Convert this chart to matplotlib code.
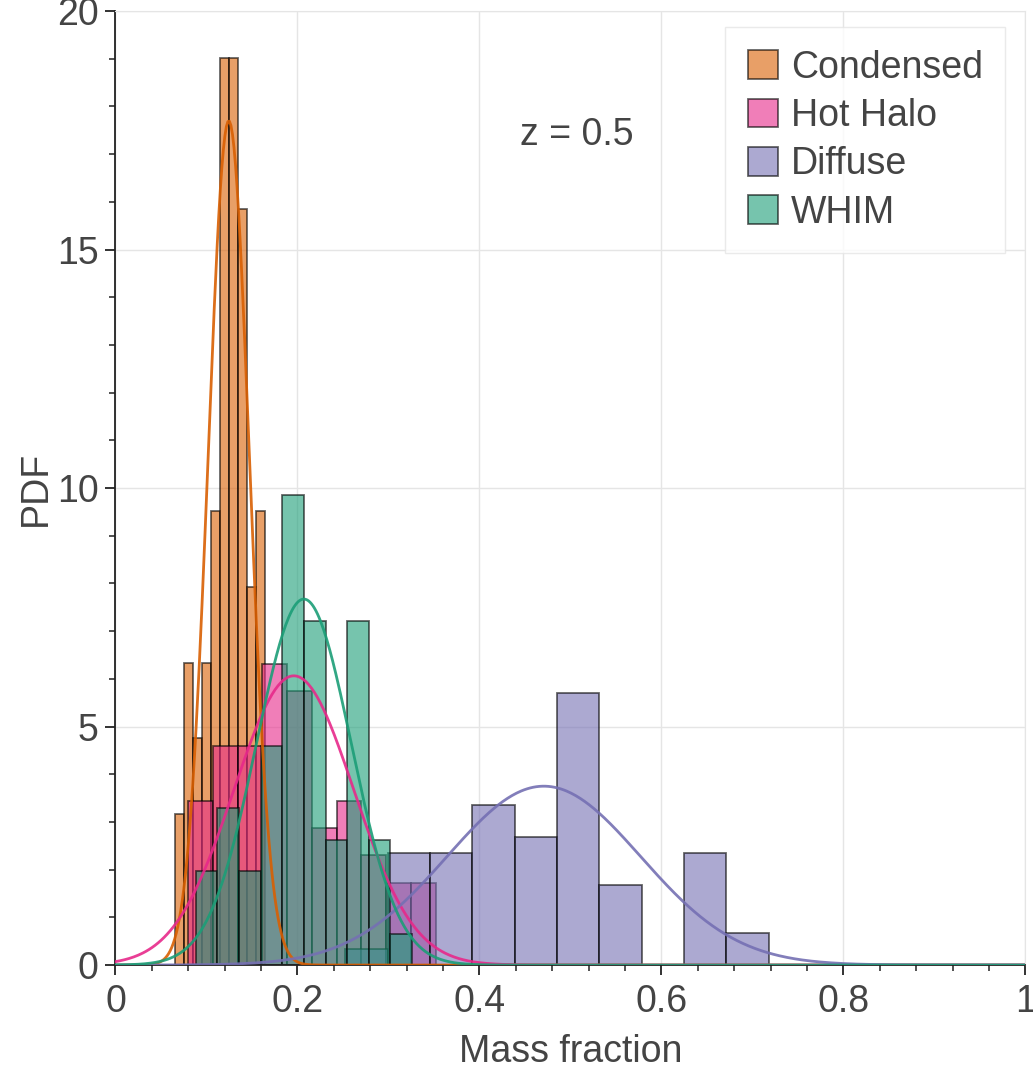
"""Mass-fraction PDFs of the four gas phases at z = 0.5 (histograms + normal fits)."""
import matplotlib

matplotlib.use("Agg")
import matplotlib.pyplot as plt
import numpy as np
from matplotlib.patches import Patch

plt.rcParams["font.family"] = ["Liberation Sans", "DejaVu Sans"]

N_SAMPLES = 64
phases = ["Condensed", "Hot Halo", "Diffuse", "WHIM"]
colors = ["#d95f02", "#e7298a", "#7570b3", "#1b9e77"]

# 10 equal-width bins per phase: (first edge, last edge) and counts per bin
bin_range = [(0.0659, 0.1645), (0.0799, 0.3519), (0.2527, 0.7179), (0.0880, 0.3260)]
counts = [
    [2, 4, 3, 4, 6, 12, 12, 10, 5, 6],
    [6, 8, 8, 11, 10, 5, 6, 4, 3, 3],
    [1, 7, 7, 10, 8, 17, 5, 0, 7, 2],
    [3, 5, 3, 7, 15, 11, 4, 11, 4, 1],
]
# normal fits: mean and sigma
fit_mu = [0.1245, 0.196, 0.4707, 0.207]
fit_sigma = [0.02254, 0.0658, 0.1064, 0.052]

TXT = "#444444"
GRID = "#e5e5e5"
FS = 27


def main():
    fig = plt.figure(figsize=(10.33, 10.70), dpi=100)
    ax = fig.add_axes([0.1118, 0.0981, 0.8809, 0.8916])

    for c, (lo, hi), col in zip(counts, bin_range, colors):
        edges = np.linspace(lo, hi, len(c) + 1)
        w = edges[1] - edges[0]
        dens = np.array(c) / (N_SAMPLES * w)
        ax.bar(edges[:-1], dens, width=w, align="edge", color=col, alpha=0.6,
               edgecolor=(0, 0, 0, 0.6), linewidth=1.3, zorder=2)

    xs = np.linspace(0, 1, 600)
    for mu, sg, col in zip(fit_mu, fit_sigma, colors):
        pdf = np.exp(-0.5 * ((xs - mu) / sg) ** 2) / (sg * np.sqrt(2 * np.pi))
        ax.plot(xs, pdf, color=col, lw=2, alpha=0.9, zorder=3)

    ax.set_xlim(0, 1)
    ax.set_ylim(0, 20)
    ax.set_xticks(np.arange(0, 1.01, 0.2))
    ax.set_xticklabels(["0", "0.2", "0.4", "0.6", "0.8", "1"])
    ax.set_xticks(np.arange(0, 1.001, 0.04), minor=True)
    ax.set_yticks([0, 5, 10, 15, 20])
    ax.set_yticks(np.arange(0, 20.1, 1), minor=True)
    ax.grid(True, which="major", color=GRID, lw=1, zorder=0)
    ax.set_axisbelow(True)

    for s in ["top", "right"]:
        ax.spines[s].set_color(GRID)
    for s in ["left", "bottom"]:
        ax.spines[s].set_color("#222222")
        ax.spines[s].set_linewidth(1.3)
    ax.tick_params(which="major", direction="out", length=7, width=1.3, color="#222222",
                   labelsize=FS, labelcolor=TXT, pad=5)
    ax.tick_params(axis="x", which="major", pad=7)
    ax.tick_params(which="minor", direction="out", length=4, width=1.1, color="#222222")

    ax.set_xlabel("Mass fraction", fontsize=FS, color=TXT, labelpad=10)
    ax.set_ylabel("PDF", fontsize=FS, color=TXT, labelpad=2)

    ax.text(0.507, 17.4, "z = 0.5", fontsize=FS, color=TXT, ha="center", va="center")

    handles = [Patch(facecolor=col, alpha=0.6, edgecolor=(0, 0, 0, 0.6), linewidth=1.3)
               for col in colors]
    leg = ax.legend(handles, phases, loc="upper right", bbox_to_anchor=(0.978, 0.983),
                    borderaxespad=0, fontsize=FS, frameon=True, fancybox=False,
                    edgecolor=GRID, handlelength=0.8, handleheight=0.8,
                    handletextpad=0.35, labelspacing=0.33, borderpad=0.6,
                    labelcolor=TXT)
    leg.get_frame().set_linewidth(1)

    fig.savefig("out.png", dpi=100)
    plt.close(fig)


if __name__ == "__main__":
    main()
